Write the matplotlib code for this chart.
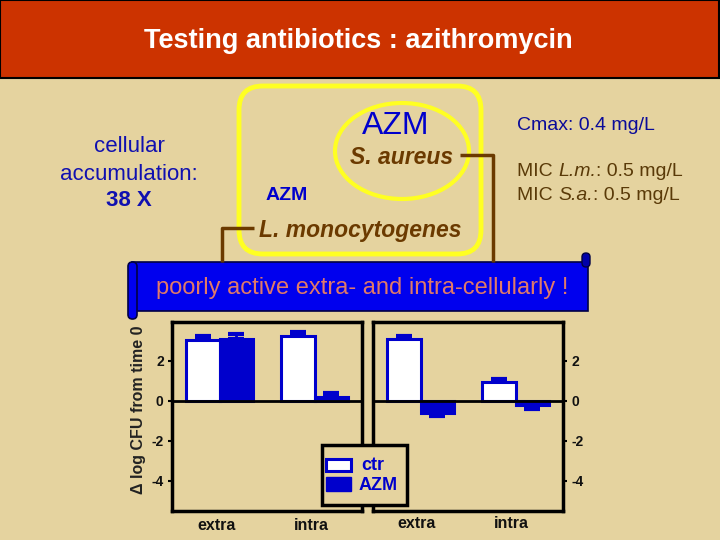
import matplotlib
matplotlib.use("Agg")
import matplotlib.pyplot as plt
from matplotlib.patches import Rectangle, FancyBboxPatch, Ellipse
import numpy as np

plt.rcParams['font.family'] = ['Liberation Sans', 'DejaVu Sans']

# ---- data ----
groups = ["extra", "intra"]
series = ["ctr", "AZM"]
left_ctr = [3.05, 3.25]
left_ctr_err = [0.2, 0.2]
left_azm = [3.1, 0.2]
left_azm_err = [0.25, 0.2]
right_ctr = [3.1, 0.95]
right_ctr_err = [0.15, 0.15]
right_azm = [-0.6, -0.2]
right_azm_err = [-0.15, -0.2]
yticks = [2, 0, -2, -4]

BG = '#E5D39F'
BLUE = '#0000CC'
BROWN = '#6B3A00'

fig = plt.figure(figsize=(7.2, 5.4), dpi=100)
fig.patch.set_facecolor(BG)
renderer = fig.canvas.get_renderer()

# decoration axes in pixel coordinates
d = fig.add_axes([0, 0, 1, 1])
d.set_xlim(0, 720)
d.set_ylim(540, 0)
d.axis('off')

def rich_text(x, y, pieces, **kw):
    """Draw text pieces [(str, style)] one after another starting at pixel x."""
    cx = x
    for s, st in pieces:
        t = d.text(cx, y, s, style=st, ha='left', va='center', **kw)
        bb = t.get_window_extent(renderer=renderer)
        cx += bb.width  # 1 px per data unit horizontally

# title bar
d.add_patch(Rectangle((0, 0), 719, 78, facecolor='#CC3300', edgecolor='black', lw=1.5))
d.text(358, 41, "Testing antibiotics : azithromycin", color='white', fontsize=19.5,
       fontweight='bold', ha='center', va='center')

# yellow rounded rect and ellipse
d.add_patch(FancyBboxPatch((239, 86), 242, 168, boxstyle="round,pad=0,rounding_size=24",
                           facecolor='none', edgecolor='#FFFF22', lw=3.5))
d.add_patch(Ellipse((402, 151), 134, 96, facecolor='none', edgecolor='#FFFF22', lw=3))

# brown connector lines
d.plot([460, 493, 493], [155, 155, 262], color=BROWN, lw=2.5, solid_capstyle='butt')
d.plot([254, 222, 222], [228, 228, 262], color=BROWN, lw=2.5, solid_capstyle='butt')

d.text(396, 126, "AZM", color=BLUE, fontsize=23, ha='center', va='center')
d.text(402, 157, "S. aureus", color=BROWN, fontsize=16.5, fontweight='bold', style='italic',
       ha='center', va='center')
d.text(287, 196, "AZM", color=BLUE, fontsize=14, fontweight='bold', ha='center', va='center')
d.text(360, 231, "L. monocytogenes", color=BROWN, fontsize=16.5, fontweight='bold',
       style='italic', ha='center', va='center')

d.text(517, 125, "Cmax: 0.4 mg/L", color='#0A0A99', fontsize=14, ha='left', va='center')
rich_text(517, 172, [("MIC ", 'normal'), ("L.m.", 'italic'), (": 0.5 mg/L", 'normal')],
          color='#5A3A08', fontsize=14)
rich_text(517, 195, [("MIC ", 'normal'), ("S.a.", 'italic'), (": 0.5 mg/L", 'normal')],
          color='#5A3A08', fontsize=14)

d.text(129, 147, "cellular", color='#1010B0', fontsize=16, ha='center', va='center')
d.text(129, 174, "accumulation:", color='#1010B0', fontsize=16, ha='center', va='center')
d.text(129, 201, "38 X", color='#1010B0', fontsize=16, fontweight='bold', ha='center', va='center')

# scroll banner
d.add_patch(Rectangle((132, 262), 456, 49, facecolor='#0000EE', edgecolor='#000044', lw=1.2))
d.add_patch(FancyBboxPatch((128, 262), 9, 57, boxstyle="round,pad=0,rounding_size=4.5",
                           facecolor='#0000EE', edgecolor='#000044', lw=1.2))
d.add_patch(FancyBboxPatch((582, 253), 8, 14, boxstyle="round,pad=0,rounding_size=4",
                           facecolor='#0000AA', edgecolor='#000044', lw=1.0))
d.text(362, 288, "poorly active extra- and intra-cellularly !", color='#E07A68', fontsize=17,
       ha='center', va='center')

# y label
d.text(139, 410, "\u0394 log CFU from time 0", color='#222222', fontsize=11.5, fontweight='bold',
       rotation=90, ha='center', va='center')

# bar panels
def panel(rect, ctr, ctr_err, azm, azm_err, side):
    ax = fig.add_axes(rect)
    ax.set_facecolor('none')
    ax.set_xlim(0, 4)
    ax.set_ylim(-5.5, 3.95)
    x = np.array([1, 3])
    w = 0.7
    ax.bar(x - w / 2, ctr, w, color='white', edgecolor=BLUE, lw=2.2, zorder=3)
    ax.bar(x + w / 2, azm, w, color=BLUE, edgecolor=BLUE, lw=2.2, zorder=3)
    for xi, v, e in zip(x - w / 2, ctr, ctr_err):
        ax.errorbar(xi, v + e / 2, yerr=abs(e) / 2, color=BLUE, capsize=6, capthick=3,
                    elinewidth=2, zorder=2)
    for xi, v, e in zip(x + w / 2, azm, azm_err):
        ax.errorbar(xi, v + e / 2, yerr=abs(e) / 2, color=BLUE, capsize=6, capthick=3,
                    elinewidth=2, zorder=2)
    ax.axhline(0, color='black', lw=2, zorder=4)
    for s in ax.spines.values():
        s.set_linewidth(2.5)
        s.set_color('black')
    ax.set_xticks([])
    ax.set_yticks(yticks)
    ax.set_yticklabels([str(t) for t in yticks], fontsize=10, fontweight='bold', color='#111111')
    if side == 'left':
        ax.tick_params(axis='y', left=True, right=False, labelleft=True, labelright=False,
                       length=3, width=1.5, pad=3)
    else:
        ax.tick_params(axis='y', left=False, right=True, labelleft=False, labelright=True,
                       length=3, width=1.5, pad=3)
    return ax

axL = panel([172 / 720, 1 - 511 / 540, 190 / 720, 189 / 540], left_ctr, left_ctr_err,
            left_azm, left_azm_err, 'left')
axR = panel([373 / 720, 1 - 511 / 540, 190 / 720, 189 / 540], right_ctr, right_ctr_err,
            right_azm, right_azm_err, 'right')

# x labels
for cx, cy, lab in zip([217, 311, 417, 511], [526, 526, 524, 524], groups * 2):
    d.text(cx, cy, lab, color='#111111', fontsize=11.5, fontweight='bold', ha='center', va='center')

# legend box on top
leg = fig.add_axes([0, 0, 1, 1])
leg.set_xlim(0, 720)
leg.set_ylim(540, 0)
leg.axis('off')
leg.add_patch(Rectangle((322, 445), 85, 60, facecolor=BG, edgecolor='black', lw=2.5))
leg.add_patch(Rectangle((326, 459), 25, 12, facecolor='white', edgecolor=BLUE, lw=2.2))
leg.add_patch(Rectangle((326, 477), 25, 14, facecolor=BLUE, edgecolor=BLUE, lw=1))
leg.text(361, 466, series[0], color=BLUE, fontsize=13, fontweight='bold', ha='left', va='center')
leg.text(359, 485, series[1], color=BLUE, fontsize=13, fontweight='bold', ha='left', va='center')

fig.savefig("out.png", dpi=100, facecolor=BG)
